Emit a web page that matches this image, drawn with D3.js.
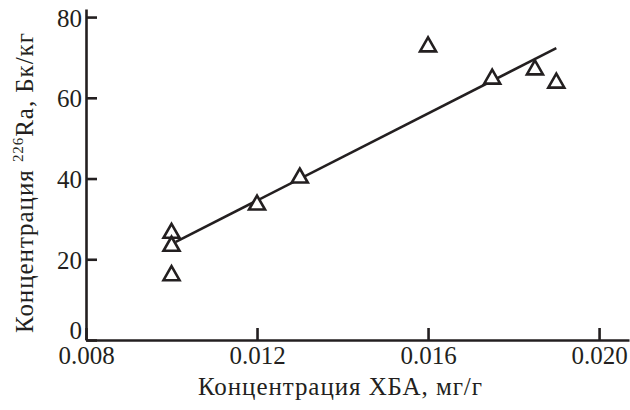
<!DOCTYPE html>
<html><head><meta charset="utf-8">
<script src="https://cdn.jsdelivr.net/npm/d3@7"></script>
<style>body{margin:0;background:#fff}svg{display:block} text{font-family:"Liberation Serif","DejaVu Serif",serif;}</style>
</head><body>
<script>
const xData = [0.010, 0.010, 0.010, 0.012, 0.013, 0.016, 0.0175, 0.0185, 0.019];
const yData = [26.8, 23.6, 16.3, 33.8, 40.5, 73.0, 65.0, 67.3, 64.0];
const fitX = [0.0101, 0.0190];
const fitY = [24.3, 72.3];
const xTicks = [0.008, 0.012, 0.016, 0.020];
const yTicks = [0, 20, 40, 60, 80];
const xLabel = "Концентрация ХБА, мг/г";

const W = 630, H = 410;
const font = "Liberation Serif, DejaVu Serif, serif";
const svg = d3.select("body").append("svg").attr("width", W).attr("height", H);
const x = d3.scaleLinear().domain([0.008, 0.0207]).range([86, 629]);
const y = d3.scaleLinear().domain([0, 82]).range([340, 9]);

const xAxis = d3.axisBottom(x).tickValues(xTicks).tickSize(-12).tickPadding(18)
  .tickFormat(d3.format(".3f")).tickSizeOuter(0);
const yAxis = d3.axisLeft(y).tickValues(yTicks).tickSize(-11).tickPadding(4)
  .tickFormat(d3.format("d")).tickSizeOuter(0);

const gx = svg.append("g").attr("transform", "translate(0,340)").call(xAxis);
const gy = svg.append("g").attr("transform", "translate(86,0)").call(yAxis);
[gx, gy].forEach(g => {
  g.attr("font-family", font).attr("font-size", 25);
  g.select(".domain").attr("stroke", "#231f20").attr("stroke-width", 2.6);
  g.selectAll(".tick line").attr("stroke", "#231f20").attr("stroke-width", 2.6);
  g.selectAll(".tick text").attr("fill", "#231f20");
});
gx.selectAll(".tick text").attr("dy", "0.71em").attr("y", 6);
gy.selectAll(".tick text").attr("dy", d => d === 0 ? "-0.05em" : "0.36em");

// fit line
svg.append("path")
  .datum(fitX.map((v, i) => [v, fitY[i]]))
  .attr("d", d3.line().x(d => x(d[0])).y(d => y(d[1])))
  .attr("stroke", "#231f20").attr("stroke-width", 2.6).attr("fill", "none");

// triangles
svg.selectAll("path.pt").data(xData.map((v, i) => [v, yData[i]])).enter().append("path")
  .attr("class", "pt")
  .attr("d", "M0,-8L8,6L-8,6Z")
  .attr("transform", d => `translate(${x(d[0])},${y(d[1])})`)
  .attr("fill", "#fff").attr("stroke", "#231f20").attr("stroke-width", 2.6)
  .attr("stroke-linejoin", "miter");

// x label
svg.append("text").attr("x", 340).attr("y", 395).attr("text-anchor", "middle")
  .attr("font-family", font).attr("font-size", 25).attr("fill", "#231f20")
  .attr("textLength", 284).attr("lengthAdjust", "spacing")
  .text(xLabel);

// y label
const yl = svg.append("text").attr("transform", "translate(33,183) rotate(-90)")
  .attr("text-anchor", "middle").attr("font-family", font).attr("font-size", 25)
  .attr("fill", "#231f20").attr("textLength", 300).attr("lengthAdjust", "spacing");
yl.append("tspan").text("Концентрация ");
yl.append("tspan").text("226").attr("font-size", 15).attr("dy", "-10");
yl.append("tspan").text("Ra, Бк/кг").attr("dy", "10");
</script>
</body></html>
